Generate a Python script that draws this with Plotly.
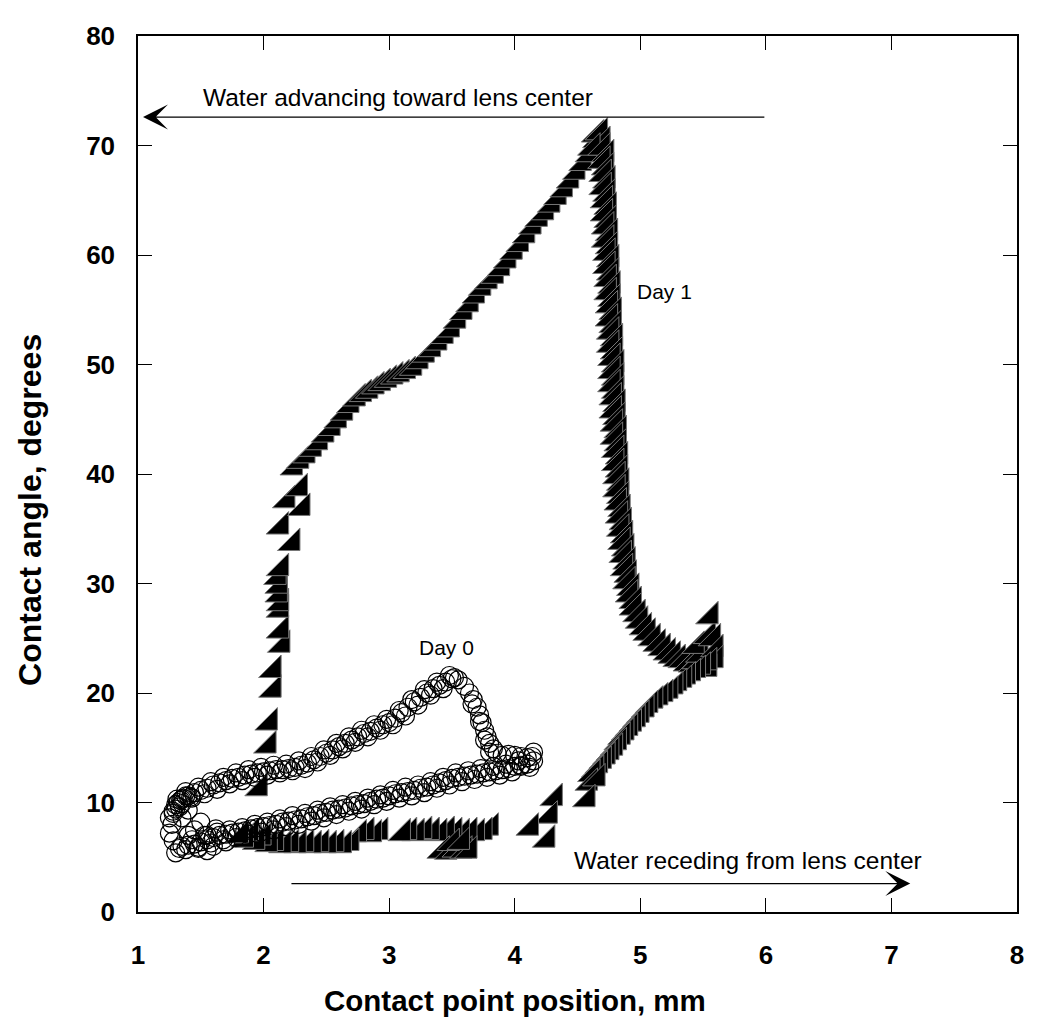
import plotly.graph_objects as go

# Day 1 - triangles (contact point position mm, contact angle deg)
day1_x = [
    # upper diagonal
    2.25, 2.30, 2.35, 2.40, 2.45, 2.50, 2.55, 2.60, 2.65, 2.70, 2.75, 2.80, 2.85, 2.90, 2.95,
    3.00, 3.05, 3.10, 3.15, 3.20, 3.25, 3.30, 3.35, 3.40, 3.45, 3.50, 3.55, 3.60, 3.65, 3.70,
    3.75, 3.80, 3.85, 3.90, 3.95, 4.00, 4.05, 4.10, 4.15, 4.20, 4.25, 4.30, 4.35, 4.40, 4.45,
    4.50, 4.55, 4.60, 4.63, 4.66, 4.65, 4.68, 4.70, 4.62,
    # right branch going down
    4.70, 4.73, 4.70, 4.73, 4.71, 4.74, 4.71, 4.74, 4.72, 4.75, 4.72, 4.75, 4.73, 4.76, 4.73,
    4.76, 4.74, 4.77, 4.74, 4.77, 4.75, 4.78, 4.75, 4.78, 4.76, 4.79, 4.76, 4.79, 4.77, 4.80,
    4.77, 4.80, 4.78, 4.81, 4.78, 4.81, 4.78, 4.81, 4.79, 4.82, 4.79, 4.82, 4.80, 4.83, 4.80,
    4.83, 4.81, 4.84, 4.81, 4.84, 4.82, 4.85, 4.82, 4.85, 4.83, 4.86, 4.84, 4.87, 4.85, 4.88,
    4.86, 4.89, 4.87, 4.90, 4.88, 4.91, 4.90, 4.93, 4.92, 4.95, 4.95, 4.98, 5.00, 5.03, 5.06,
    5.10, 5.14, 5.18, 5.22, 5.26, 5.30,
    # valley and right cluster
    5.34, 5.38, 5.42, 5.45, 5.48, 5.45, 5.54, 5.56, 5.58, 5.60, 5.60, 5.55,
    # lower diagonal
    5.55, 5.50, 5.46, 5.42, 5.38, 5.35, 5.31, 5.28, 5.24, 5.20, 5.16, 5.12, 5.08, 5.05, 5.01,
    4.98, 4.95, 4.92, 4.89, 4.86, 4.83, 4.80, 4.77, 4.74, 4.71, 4.68, 4.65, 4.62, 4.60, 4.66,
    # isolated lower points
    4.58, 4.32, 4.28, 4.13, 4.26,
    # bottom band
    3.81, 3.76, 3.70, 3.64, 3.58, 3.52, 3.46, 3.40, 3.34, 3.28, 3.22, 3.16, 3.11,
    3.42, 3.48, 3.54, 3.60, 3.64, 3.50, 3.58,
    2.93, 2.88, 2.82, 2.76, 2.70, 2.64, 2.58, 2.52, 2.46, 2.40, 2.34, 2.28, 2.22, 2.16, 2.10,
    2.05, 2.00, 1.95, 1.90, 1.86, 1.82,
    # left column
    1.97, 2.04, 2.05, 2.08, 2.08, 2.15, 2.14, 2.14, 2.14, 2.13, 2.13, 2.12, 2.14, 2.23, 2.14,
    2.31, 2.19, 2.29,
]
day1_y = [
    40.6, 41.2, 41.7, 42.3, 42.9, 43.6, 44.2, 44.9, 45.6, 46.3, 46.9, 47.3, 47.6, 48.0, 48.3,
    48.6, 48.9, 49.1, 49.4, 49.7, 50.3, 50.9, 51.4, 52.0, 52.6, 53.2, 54.0, 54.8, 55.5, 56.3,
    57.0, 57.6, 58.1, 58.8, 59.5, 60.3, 61.0, 61.8, 62.6, 63.3, 63.9, 64.6, 65.3, 66.0, 66.8,
    67.6, 68.4, 69.2, 69.9, 70.5, 71.0, 71.2, 70.4, 69.8,
    69.8, 69.2, 68.6, 68.0, 67.4, 66.8, 66.2, 65.6, 65.0, 64.4, 63.8, 63.2, 62.6, 62.0, 61.4,
    60.8, 60.2, 59.6, 59.0, 58.4, 57.8, 57.2, 56.6, 56.0, 55.4, 54.8, 54.2, 53.6, 53.0, 52.4,
    51.8, 51.2, 50.6, 50.0, 49.4, 48.8, 48.2, 47.6, 47.0, 46.4, 45.8, 45.2, 44.6, 44.0, 43.4,
    42.8, 42.2, 41.6, 41.0, 40.4, 39.8, 39.2, 38.6, 38.0, 37.4, 36.8, 36.2, 35.6, 35.0, 34.4,
    33.8, 33.2, 32.6, 32.0, 31.4, 30.8, 30.2, 29.6, 29.0, 28.4, 27.8, 27.2, 26.6, 26.0, 25.5,
    25.0, 24.5, 24.1, 23.7, 23.4, 23.1,
    23.0, 22.7, 22.6, 22.9, 23.5, 24.3, 25.2, 27.0, 25.0, 24.0, 23.0, 22.2,
    22.8, 22.4, 22.1, 21.8, 21.5, 21.2, 20.9, 20.6, 20.2, 19.9, 19.6, 19.3, 18.9, 18.5, 18.0,
    17.6, 17.2, 16.8, 16.4, 16.0, 15.5, 15.0, 14.6, 14.2, 13.8, 13.4, 13.0, 12.6, 11.8, 12.2,
    10.3, 10.4, 8.8, 7.7, 6.6,
    7.7, 7.3, 7.2, 7.3, 7.2, 7.3, 7.4, 7.2, 7.3, 7.4, 7.2, 7.3, 7.2,
    5.6, 5.5, 5.7, 5.6, 5.6, 6.3, 6.4,
    7.3, 7.1, 7.3, 7.1, 6.3, 6.1, 6.2, 6.1, 6.2, 6.1, 6.2, 6.1, 6.2, 6.1, 6.3,
    6.2, 6.8, 6.4, 7.2, 6.6, 7.0,
    11.3, 15.2, 17.3, 20.3, 22.1, 24.4, 25.7, 27.6, 28.2, 29.0, 29.8, 30.6, 31.4, 33.7, 35.2,
    36.9, 37.6, 38.7,
]

# Day 0 - open circles
day0_x = [
    # left cluster
    1.30, 1.32, 1.34, 1.36, 1.30, 1.28, 1.33, 1.38, 1.42, 1.35, 1.31,
    # upper branch
    1.35, 1.40, 1.45, 1.50, 1.55, 1.60, 1.65, 1.70, 1.75, 1.80, 1.85, 1.90, 1.95, 2.00, 2.05,
    2.10, 2.15, 2.20, 2.25, 2.30, 2.35, 2.40, 2.45, 2.50, 2.55, 2.60, 2.65, 2.70, 2.75, 2.80,
    2.85, 2.90, 2.95, 3.00, 3.05, 3.10, 3.15, 3.20, 3.25, 3.30, 3.35, 3.40, 3.45, 3.50, 3.52,
    3.55,
    # upper branch, second strand
    1.38, 1.43, 1.48, 1.53, 1.58, 1.63, 1.68, 1.73, 1.78, 1.83, 1.88, 1.93, 1.98, 2.03, 2.08,
    2.13, 2.18, 2.23, 2.28, 2.33, 2.38, 2.43, 2.48, 2.53, 2.58, 2.63, 2.68, 2.73, 2.78, 2.83,
    2.88, 2.93, 2.98, 3.03, 3.08, 3.13, 3.18, 3.23, 3.28, 3.33, 3.38, 3.43, 3.48,
    # descending part
    3.60, 3.64, 3.67, 3.70, 3.72, 3.74, 3.76, 3.78, 3.80, 3.83, 3.86, 3.90, 3.95, 4.00, 4.05,
    4.10, 4.14, 4.15, 3.66, 3.72, 3.76, 3.80, 4.10, 4.05, 4.15, 4.12,
    # lower branch
    4.05, 4.00, 3.95, 3.90, 3.85, 3.80, 3.75, 3.70, 3.65, 3.60, 3.55, 3.50, 3.45, 3.40, 3.35,
    3.30, 3.25, 3.20, 3.15, 3.10, 3.05, 3.00, 2.95, 2.90, 2.85, 2.80, 2.75, 2.70, 2.65, 2.60,
    2.55, 2.50, 2.45, 2.40, 2.35, 2.30, 2.25, 2.20, 2.15, 2.10, 2.05, 2.00, 1.95, 1.90, 1.85,
    1.80, 1.75, 1.70, 1.65, 1.60, 1.55, 1.50, 1.45, 1.40, 1.35,
    # lower branch, second strand
    4.03, 3.98, 3.93, 3.88, 3.83, 3.78, 3.73, 3.68, 3.63, 3.58, 3.53, 3.48, 3.43, 3.38, 3.33,
    3.28, 3.23, 3.18, 3.13, 3.08, 3.03, 2.98, 2.93, 2.88, 2.83, 2.78, 2.73, 2.68, 2.63, 2.58,
    2.53, 2.48, 2.43, 2.38, 2.33, 2.28, 2.23, 2.18, 2.13, 2.08, 2.03, 1.98, 1.93, 1.88, 1.83,
    1.78, 1.73, 1.68, 1.63, 1.58, 1.53, 1.48, 1.43, 1.38,
    # lower-left scatter
    1.30, 1.33, 1.28, 1.25, 1.27, 1.25, 1.28, 1.35, 1.40, 1.45, 1.50, 1.55, 1.60, 1.48, 1.40,
    1.55, 1.62, 1.70,
]
day0_y = [
    9.8, 10.0, 10.2, 10.4, 9.4, 9.0, 9.6, 10.6, 10.5, 9.9, 10.3,
    10.3, 10.6, 10.9, 11.1, 11.3, 11.6, 11.8, 12.0, 12.2, 12.3, 12.5, 12.6, 12.7, 12.8, 12.9,
    13.0, 13.0, 13.1, 13.2, 13.4, 13.6, 13.9, 14.2, 14.5, 14.8, 15.1, 15.4, 15.7, 16.0, 16.3,
    16.5, 16.8, 17.1, 17.3, 17.7, 18.2, 18.7, 19.2, 19.6, 20.0, 20.4, 20.7, 21.0, 21.3, 21.4,
    21.2,
    11.0, 10.4, 11.4, 10.8, 11.9, 11.2, 12.3, 11.7, 12.7, 12.0, 13.0, 12.3, 13.2, 12.5, 13.4,
    12.7, 13.5, 12.9, 13.8, 13.1, 14.2, 13.7, 14.8, 14.3, 15.4, 14.9, 16.0, 15.5, 16.6, 16.0,
    17.1, 16.6, 17.6, 17.1, 18.4, 17.9, 19.4, 18.9, 20.3, 19.8, 21.0, 20.4, 21.6,
    20.6, 20.0, 19.4, 18.7, 18.0, 17.3, 16.6, 16.0, 15.4, 14.9, 14.5, 14.3, 14.4, 14.3, 14.2,
    14.1, 14.2, 13.8, 19.0, 17.4, 15.7, 14.6, 13.5, 13.3, 14.6, 13.2,
    13.4, 13.3, 13.1, 13.0, 12.9, 12.8, 12.7, 12.6, 12.5, 12.4, 12.3, 12.2, 12.0, 11.8, 11.6,
    11.4, 11.3, 11.1, 11.0, 10.9, 10.8, 10.6, 10.4, 10.3, 10.1, 9.9, 9.8, 9.7, 9.5, 9.4,
    9.3, 9.1, 9.0, 8.8, 8.7, 8.5, 8.4, 8.3, 8.2, 8.0, 7.9, 7.8, 7.7, 7.6, 7.4,
    7.3, 7.2, 7.1, 7.0, 6.8, 6.6, 6.4, 6.2, 6.1, 6.0,
    13.8, 12.8, 13.5, 12.5, 13.3, 12.3, 13.1, 12.1, 12.9, 11.9, 12.7, 11.6, 12.3, 11.3, 11.9,
    10.9, 11.6, 10.6, 11.4, 10.4, 11.1, 10.1, 10.7, 9.8, 10.4, 9.4, 10.1, 9.2, 9.8, 8.9,
    9.6, 8.6, 9.3, 8.3, 9.0, 8.0, 8.8, 7.8, 8.5, 7.5, 8.2, 7.3, 8.0, 7.1, 7.7,
    6.8, 7.5, 6.6, 7.3, 6.3, 7.0, 5.9, 6.6, 5.7,
    5.4, 5.8, 6.5, 7.2, 8.0, 8.6, 9.2, 8.6, 7.0, 7.5, 8.2, 7.0, 6.0, 5.8, 9.3,
    5.6, 7.6, 6.4,
]

x_ticks = [1, 2, 3, 4, 5, 6, 7, 8]
y_ticks = [0, 10, 20, 30, 40, 50, 60, 70, 80]

FONT = "Liberation Sans, Arial, sans-serif"

fig = go.Figure()

fig.add_trace(go.Scatter(
    x=day1_x, y=day1_y, mode="markers", name="Day 1",
    marker=dict(symbol="triangle-se", size=25, color="black",
                line=dict(color="#777777", width=1)),
))
fig.add_trace(go.Scatter(
    x=day0_x, y=day0_y, mode="markers", name="Day 0",
    marker=dict(symbol="circle-open", size=18, color="black",
                line=dict(width=1.2)),
))

# direction arrows (barbed heads)
fig.add_annotation(x=1.04, y=72.6, ax=6.0, ay=72.6, xref="x", yref="y",
                   axref="x", ayref="y", text="", showarrow=True,
                   arrowhead=3, arrowsize=3.2, arrowwidth=1.3, arrowcolor="black")
fig.add_annotation(x=7.15, y=2.6, ax=2.21, ay=2.6, xref="x", yref="y",
                   axref="x", ayref="y", text="", showarrow=True,
                   arrowhead=3, arrowsize=3.2, arrowwidth=1.3, arrowcolor="black")

# text labels
labels = [
    ("Water advancing toward lens center", 3.07, 74.4, 24.5),
    ("Water receding from lens center", 5.86, 4.7, 24.5),
    ("Day 1", 5.19, 56.7, 21),
    ("Day 0", 3.46, 24.2, 21),
]
for txt, lx, ly, sz in labels:
    fig.add_annotation(x=lx, y=ly, xref="x", yref="y", text=txt, showarrow=False,
                       font=dict(family=FONT, size=sz, color="black"))

# axis titles (placed by hand, they sit off-centre in the original)
fig.add_annotation(x=0.429, y=-0.1005, xref="paper", yref="paper",
                   text="Contact point position, mm", showarrow=False,
                   xanchor="center", yanchor="middle",
                   font=dict(family=FONT, size=29.5, color="black", weight="bold"))
fig.add_annotation(x=-0.1229, y=0.459, xref="paper", yref="paper",
                   text="Contact angle, degrees", showarrow=False, textangle=-90,
                   xanchor="center", yanchor="middle",
                   font=dict(family=FONT, size=32, color="black", weight="bold"))

axis_common = dict(
    showline=True, linecolor="black", linewidth=1.5, mirror="ticks",
    ticks="inside", ticklen=14, tickwidth=1, tickcolor="black",
    showgrid=False, zeroline=False,
    tickfont=dict(family=FONT, size=26, color="black", weight="bold"),
)

fig.update_xaxes(range=[1, 8], tickvals=x_ticks, ticklabelstandoff=19, **axis_common)
fig.update_yaxes(range=[0, 80], tickvals=y_ticks, ticklabelstandoff=16, **axis_common)

fig.update_layout(
    width=1050, height=1030,
    margin=dict(l=130, r=41, t=28, b=126),
    plot_bgcolor="white", paper_bgcolor="white",
    showlegend=False,
)

fig.write_html("out.html")
